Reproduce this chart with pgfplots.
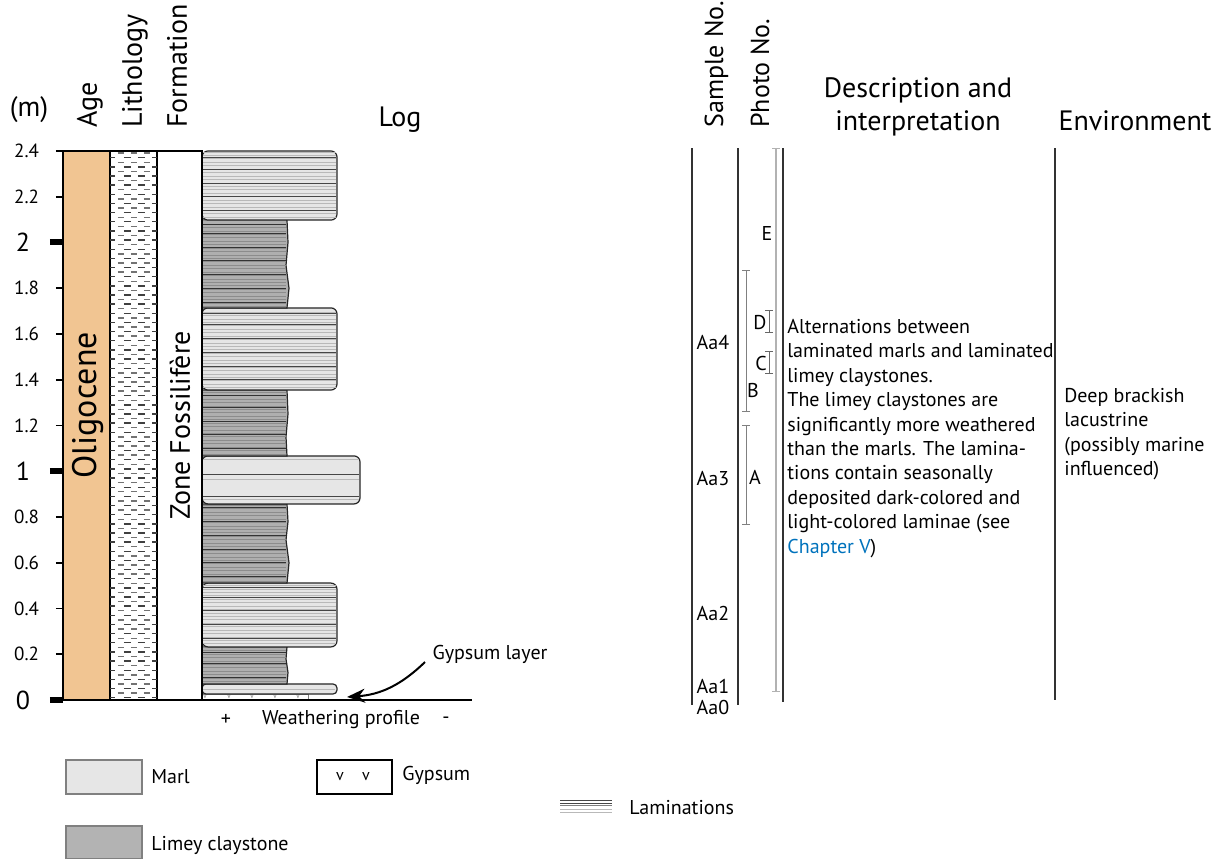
\documentclass[border=0pt]{standalone}
\usepackage{fontspec}
\setmainfont{PT Sans}
\usepackage{pgfplots}
\pgfplotsset{compat=1.18}
\usetikzlibrary{arrows.meta}
\definecolor{agec}{RGB}{241,197,146}
\definecolor{marl}{RGB}{230,230,230}
\definecolor{clay}{RGB}{175,175,175}
\definecolor{claylg}{RGB}{179,179,179}
\definecolor{chap}{RGB}{0,114,188}
\definecolor{lamg}{RGB}{185,185,185}
\definecolor{lamd}{RGB}{70,70,70}
\definecolor{clayl}{RGB}{140,140,140}
\definecolor{colline}{RGB}{50,50,50}
\newcommand{\hdr}{\fontsize{14}{16.5}\selectfont}
\newcommand{\bdy}{\fontsize{10}{12.2}\selectfont}
% lamination lines: #1 right x, #2 list of depths, #3 style
\newcommand{\lam}[3]{\pgfplotsinvokeforeach{#2}{\draw[#3] (axis cs:203,##1) -- (axis cs:#1,##1);}}
\begin{document}
\begin{tikzpicture}
\begin{axis}[
  scale only axis, width=577pt, height=274.5pt,
  xmin=63, xmax=1217, ymin=0, ymax=2.4, clip=false,
  axis x line=none, axis y line=left,
  axis line style={-},
  y axis line style={line width=1pt, black},
  ytick={0.2,0.4,0.6,0.8,1.2,1.4,1.6,1.8,2.2,2.4},
  tick align=outside, ytick pos=left,
  major tick length=3.5pt,
  tick style={black, line width=0.8pt},
  /pgf/number format/assume math mode=true,
  /pgf/number format/fixed, /pgf/number format/precision=1,
  yticklabel style={font=\fontsize{9.5}{11}\selectfont, xshift=-5pt},
  extra y ticks={0,1,2},
  extra y tick style={major tick length=6.5pt, tick style={black, line width=3pt},
     yticklabel style={font=\fontsize{13}{15}\selectfont, xshift=-1.5pt}},
]
% ---------------- columns ----------------
\addplot[fill=agec, draw=black, line width=1pt] coordinates {(63,0)(110,0)(110,2.4)(63,2.4)} -- cycle;
\addplot[fill=white, draw=black, line width=1.1pt] coordinates {(110,0)(157,0)(157,2.4)(110,2.4)} -- cycle;
\addplot[fill=white, draw=black, line width=1pt] coordinates {(157,0)(202,0)(202,2.4)(157,2.4)} -- cycle;
% lithology dashes
\pgfplotsinvokeforeach{0.01,0.05,...,2.37}{\draw[black!75, line width=0.7pt] (axis cs:110,#1)--(axis cs:115,#1) (axis cs:124,#1)--(axis cs:131,#1) (axis cs:138,#1)--(axis cs:145,#1) (axis cs:152,#1)--(axis cs:157,#1);}
\pgfplotsinvokeforeach{0.03,0.07,...,2.39}{\draw[black!55, line width=0.7pt] (axis cs:118,#1)--(axis cs:124,#1) (axis cs:131,#1)--(axis cs:137,#1) (axis cs:144,#1)--(axis cs:150,#1);}
\node[rotate=90, font=\fontsize{17}{19}\selectfont] at (axis cs:88,1.288) {Oligocene};
\node[rotate=90, font=\hdr] at (axis cs:180,1.20) {Zone Fossilifère};
% ---------------- log: beds (bottom, top, weathering extent) ----------------
% gypsum 0.000-0.026
\addplot[fill=white, draw=gray, line width=0.5pt] coordinates {(202,0)(308,0)(308,0.026)(202,0.026)} -- cycle;
\pgfplotsinvokeforeach{205,229,252,275,298}{\node[font=\fontsize{4}{4}\selectfont, text=gray] at (axis cs:#1,0.014) {v};}
% marl 0.026-0.070
\addplot[fill=marl, draw=black!85, line width=0.6pt, rounded corners=2pt] coordinates {(202,0.026)(337,0.026)(337,0.07)(202,0.07)} -- cycle;
\lam{335}{0.048}{lamg, line width=0.5pt}
% claystone 0.070-0.232
\addplot[fill=clay, draw=black!85, line width=0.6pt] coordinates {(202,0.07)(287,0.07)(288,0.12)(286,0.18)(287,0.232)(202,0.232)} -- cycle;
\lam{286}{0.08,0.095,...,0.225}{clayl, line width=0.5pt}
\lam{286}{0.10,0.16,0.21}{black!80, line width=0.4pt}
% marl 0.232-0.511
\addplot[fill=marl, draw=black!85, line width=0.6pt, rounded corners=3pt] coordinates {(202,0.232)(337,0.232)(337,0.511)(202,0.511)} -- cycle;
\lam{336}{0.245,0.26,...,0.50}{lamg, line width=0.5pt}
\lam{336}{0.27,0.33,0.39,0.45,0.49}{lamd, line width=0.4pt}
% claystone 0.511-0.857
\addplot[fill=clay, draw=black!85, line width=0.6pt] coordinates {(202,0.511)(287,0.511)(289,0.6)(286,0.7)(288,0.78)(287,0.857)(202,0.857)} -- cycle;
\lam{286}{0.52,0.535,...,0.85}{clayl, line width=0.5pt}
\lam{286}{0.54,0.60,0.66,0.72,0.78,0.84}{black!80, line width=0.4pt}
% marl 0.857-1.067
\addplot[fill=marl, draw=black!85, line width=0.6pt, rounded corners=3pt] coordinates {(202,0.857)(360,0.857)(360,1.067)(202,1.067)} -- cycle;
\lam{359}{0.875,0.966,1.05}{lamg, line width=0.5pt}
\lam{359}{0.889,0.987}{lamd, line width=0.4pt}
% claystone 1.067-1.355
\addplot[fill=clay, draw=black!85, line width=0.6pt] coordinates {(202,1.067)(287,1.067)(286,1.15)(288,1.25)(287,1.355)(202,1.355)} -- cycle;
\lam{286}{1.075,1.09,...,1.345}{clayl, line width=0.5pt}
\lam{286}{1.10,1.16,1.22,1.28,1.33}{black!80, line width=0.4pt}
% marl 1.355-1.714
\addplot[fill=marl, draw=black!85, line width=0.6pt, rounded corners=3pt] coordinates {(202,1.355)(337,1.355)(337,1.714)(202,1.714)} -- cycle;
\lam{336}{1.365,1.38,...,1.70}{lamg, line width=0.5pt}
\lam{336}{1.40,1.46,1.52,1.58,1.64,1.69}{lamd, line width=0.4pt}
% claystone 1.714-2.098
\addplot[fill=clay, draw=black!85, line width=0.6pt] coordinates {(202,1.714)(287,1.714)(289,1.8)(286,1.9)(288,2.0)(287,2.098)(202,2.098)} -- cycle;
\lam{286}{1.72,1.735,...,2.09}{clayl, line width=0.5pt}
\lam{286}{1.74,1.80,1.86,1.92,1.98,2.04,2.08}{black!80, line width=0.4pt}
% marl 2.098-2.400
\addplot[fill=marl, draw=black!85, line width=0.6pt, rounded corners=3pt] coordinates {(202,2.098)(337,2.098)(337,2.4)(202,2.4)} -- cycle;
\lam{336}{2.11,2.125,...,2.39}{lamg, line width=0.5pt}
\lam{336}{2.14,2.20,2.26,2.32,2.37}{lamd, line width=0.4pt}
% log left edge and base line
\addplot[black, line width=1pt] coordinates {(202,0)(202,2.4)};
\addplot[black, line width=0.6pt] coordinates {(202,0)(472,0)};
\node[font=\bdy] at (axis cs:226,-0.087) {+};
\node[font=\bdy] at (axis cs:341,-0.087) {Weathering profile};
\node[font=\bdy] at (axis cs:446,-0.087) {-};
\node[font=\bdy] at (axis cs:490,0.197) {Gypsum layer};
\draw[-{Stealth[length=9pt,width=7pt]}, line width=1pt] (axis cs:425,0.166) to[bend left=20] (axis cs:347,0.013);
% ---------------- headers ----------------
\node[font=\hdr] at (axis cs:29,2.58) {(m)};
\node[font=\hdr, rotate=90, anchor=base west, inner sep=0pt] at (axis cs:97,2.5005) {Age};
\node[font=\hdr, rotate=90, anchor=base west, inner sep=0pt] at (axis cs:142,2.5005) {Lithology};
\node[font=\hdr, rotate=90, anchor=base west, inner sep=0pt] at (axis cs:187,2.5005) {Formation};
\node[font=\hdr, anchor=base] at (axis cs:400,2.5049) {Log};
\node[font=\fontsize{13}{15}\selectfont, rotate=90, anchor=base west, inner sep=0pt] at (axis cs:723,2.5005) {Sample No.};
\node[font=\fontsize{13}{15}\selectfont, rotate=90, anchor=base west, inner sep=0pt] at (axis cs:769,2.5005) {Photo No.};
\node[font=\hdr, anchor=base] at (axis cs:918,2.6317) {Description and};
\node[font=\hdr, anchor=base] at (axis cs:918,2.4874) {interpretation};
\node[font=\hdr, anchor=base] at (axis cs:1135,2.4874) {Environment};
% ---------------- right columns ----------------
\addplot[colline, line width=0.8pt] coordinates {(692,2.413)(692,-0.022)};
\addplot[colline, line width=0.8pt] coordinates {(738,2.413)(738,-0.022)};
\addplot[colline, line width=1.1pt] coordinates {(783,2.413)(783,-0.009)};
\addplot[colline, line width=0.8pt] coordinates {(1055,2.413)(1055,0)};
% photo intervals
\addplot[gray!60, line width=0.6pt, {Bar[width=4pt]}-{Bar[width=4pt]}] coordinates {(776,0.035)(776,2.413)};
\addplot[gray, line width=0.5pt, {Bar[width=4pt]}-{Bar[width=4pt]}] coordinates {(746,1.259)(746,1.880)};
\addplot[gray, line width=0.5pt, {Bar[width=4pt]}-{Bar[width=4pt]}] coordinates {(746,0.765)(746,1.202)};
\addplot[gray!80!black, line width=0.5pt, {Bar[width=4pt]}-{Bar[width=4pt]}] coordinates {(769,1.604)(769,1.705)};
\addplot[gray!80!black, line width=0.5pt, {Bar[width=4pt]}-{Bar[width=4pt]}] coordinates {(769,1.425)(769,1.526)};
\node[font=\bdy] at (axis cs:767,2.041) {E};
\node[font=\bdy] at (axis cs:760,1.652) {D};
\node[font=\bdy] at (axis cs:761,1.473) {C};
\node[font=\bdy] at (axis cs:753,1.355) {B};
\node[font=\bdy] at (axis cs:755,0.975) {A};
% sample numbers
\node[font=\bdy] at (axis cs:713,1.565) {Aa4};
\node[font=\bdy] at (axis cs:713,0.970) {Aa3};
\node[font=\bdy] at (axis cs:713,0.380) {Aa2};
\node[font=\bdy] at (axis cs:713,0.061) {Aa1};
\node[font=\bdy] at (axis cs:713,-0.035) {Aa0};
% description
\node[font=\bdy, anchor=north west, align=left, inner sep=0pt] at (axis cs:787,1.6656) {Alternations between\\laminated marls and laminated\\limey claystones.\\The limey claystones are\\significantly more weathered\\than the marls. The lamina-\\tions contain seasonally\\deposited dark-colored and\\light-colored laminae (see\\\textcolor{chap}{Chapter V})};
\node[font=\bdy, anchor=north west, align=left, inner sep=0pt] at (axis cs:1064,1.364) {Deep brackish\\lacustrine\\(possibly marine\\influenced)};
% ---------------- legend ----------------
\addplot[fill=marl, draw=gray, line width=0.6pt] coordinates {(66,-0.262)(142,-0.262)(142,-0.411)(66,-0.411)} -- cycle;
\node[font=\bdy, anchor=west, inner sep=0pt] at (axis cs:151,-0.337) {Marl};
\addplot[fill=white, draw=black, line width=0.6pt] coordinates {(317,-0.262)(392,-0.262)(392,-0.411)(317,-0.411)} -- cycle;
\node[font=\fontsize{8}{8}\selectfont] at (axis cs:340,-0.334) {v};
\node[font=\fontsize{8}{8}\selectfont] at (axis cs:366,-0.334) {v};
\node[font=\bdy, anchor=west, inner sep=0pt] at (axis cs:402,-0.332) {Gypsum};
\addplot[fill=claylg, draw=gray, line width=0.6pt] coordinates {(66,-0.551)(142,-0.551)(142,-0.695)(66,-0.695)} -- cycle;
\node[font=\bdy, anchor=west, inner sep=0pt] at (axis cs:151,-0.634) {Limey claystone};
\addplot[lamd, line width=0.4pt] coordinates {(560,-0.437)(612,-0.437)};
\addplot[lamd, line width=0.4pt] coordinates {(560,-0.450)(612,-0.450)};
\addplot[gray, line width=0.4pt] coordinates {(560,-0.463)(612,-0.463)};
\addplot[lamg, line width=0.4pt] coordinates {(560,-0.477)(612,-0.477)};
\addplot[lamg, line width=0.4pt] coordinates {(560,-0.490)(612,-0.490)};
\node[font=\bdy, anchor=west, inner sep=0pt] at (axis cs:629,-0.472) {Laminations};
% canvas corners
\coordinate (BL) at (axis cs:0,-0.6951);
\coordinate (TR) at (axis cs:1217,3.0601);
\end{axis}
\pgfresetboundingbox
\path (BL) rectangle (TR);
\end{tikzpicture}
\end{document}
